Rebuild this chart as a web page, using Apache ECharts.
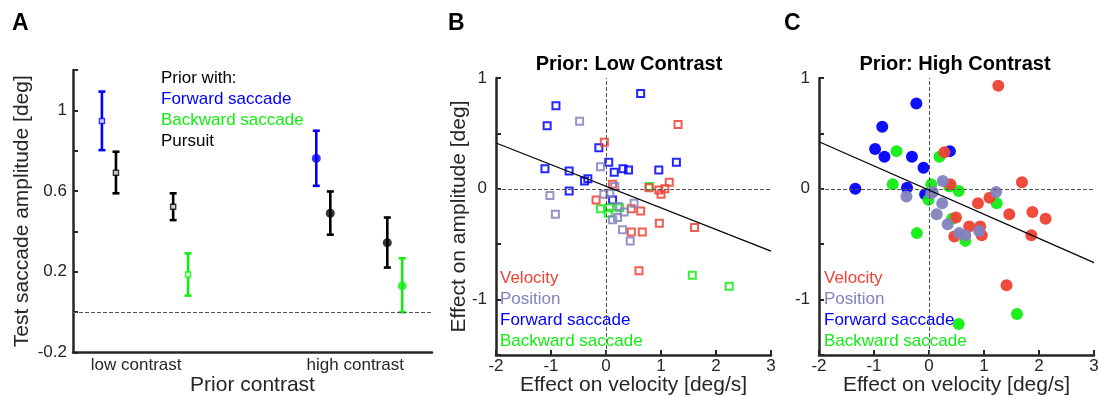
<!DOCTYPE html>
<html>
<head>
<meta charset="utf-8">
<script src="https://cdn.jsdelivr.net/npm/echarts@6/dist/echarts.min.js"></script>
<style>
  html, body { margin: 0; padding: 0; background: #fff; }
  #chart { width: 1099px; height: 395px; }
</style>
</head>
<body>
<div id="chart"></div>
<script>
// ---- Panel A: test saccade amplitude by prior contrast ----
const conditionColors = ['#0000ff', '#000000', '#000000', '#11ee11'];
const lowX = [0.844, 0.908, 1.169, 1.237];
const lowMean = [0.947, 0.691, 0.522, 0.186];
const lowLo = [0.803, 0.589, 0.456, 0.082];
const lowHi = [1.093, 0.795, 0.589, 0.291];
const highX = [1.822, 1.886, 2.146, 2.214];
const highMean = [0.762, 0.490, 0.344, 0.130];
const highLo = [0.626, 0.384, 0.221, 0.000];
const highHi = [0.899, 0.598, 0.469, 0.267];
const contrastTicks = [1, 2];
const contrastLabels = ['low contrast', 'high contrast'];

// ---- Panel B: prior low contrast (squares) ----
const bVelX = [-0.03, 1.31, 0.12, -0.18, 0.46, 0.63, 0.46, 0.66, 0.97, 1.15, 1.07, 1.00, 0.96, 0.78, 1.61, 0.60];
const bVelY = [0.42, 0.58, 0.04, -0.10, -0.18, -0.20, -0.39, -0.39, -0.31, 0.06, 0.00, -0.05, -0.01, 0.01, -0.35, -0.74];
const bPosX = [-0.48, -0.10, -1.02, -0.92, -0.04, 0.16, 0.51, 0.33, 0.21, 0.12, 0.30, 0.44, 0.07, 0.22];
const bPosY = [0.61, 0.20, -0.06, -0.23, -0.05, 0.02, -0.13, -0.21, -0.26, -0.28, -0.37, -0.47, -0.04, -0.16];
const bFwdX = [0.63, -0.91, -1.07, -0.13, 0.05, -1.11, -0.67, 0.15, 0.31, 0.41, 0.96, 1.28, -0.33, -0.39, -0.67, 0.12];
const bFwdY = [0.86, 0.75, 0.57, 0.37, 0.24, 0.18, 0.16, 0.15, 0.18, 0.17, 0.17, 0.24, 0.09, 0.07, -0.02, -0.10];
const bBwdX = [0.79, -0.10, 0.06, 0.04, 0.25, 1.57, 2.24];
const bBwdY = [0.02, -0.18, -0.17, -0.22, -0.17, -0.78, -0.88];
const bFit = [[-2, 0.413], [3, -0.562]];

// ---- Panel C: prior high contrast (circles) ----
const cVelX = [1.26, 0.28, 0.39, 0.89, 1.10, 1.46, 1.69, 1.88, 2.12, 1.86, 0.49, 0.73, 0.93, 0.96, 0.46, 1.41];
const cVelY = [0.93, 0.33, 0.04, -0.13, -0.08, -0.23, 0.06, -0.21, -0.27, -0.42, -0.26, -0.34, -0.34, -0.42, -0.43, -0.87];
const cPosX = [0.25, 0.07, 1.22, -0.41, 0.24, 0.14, 0.34, 0.55, 0.66, 0.91, 0.04];
const cPosY = [0.07, -0.03, -0.03, -0.07, -0.13, -0.23, -0.32, -0.40, -0.42, -0.38, -0.04];
const cFwdX = [-0.23, -0.85, -0.98, -0.81, -0.31, -0.10, -1.34, -0.40, 0.38, -0.07];
const cFwdY = [0.77, 0.56, 0.36, 0.29, 0.29, 0.19, 0.00, 0.01, 0.34, -0.05];
const cBwdX = [-0.59, -0.66, 0.19, 0.04, -0.01, 0.37, 0.54, 1.23, -0.22, 0.42, 0.66, 0.54, 1.60];
const cBwdY = [0.34, 0.04, 0.29, 0.04, -0.10, 0.02, -0.02, -0.13, -0.40, -0.27, -0.47, -1.22, -1.13];
const cFit = [[-2, 0.425], [3, -0.666]];

const legendA = [
    ['Prior with:', '#000000'],
    ['Forward saccade', '#0000ff'],
    ['Backward saccade', '#11ee11'],
    ['Pursuit', '#000000']
];
const legendBC = [
    ['Velocity', '#f04132'],
    ['Position', '#8282c0'],
    ['Forward saccade', '#0000ff'],
    ['Backward saccade', '#11ee11']
];

const FONT = "'Liberation Sans', Arial, sans-serif";
const AXIS = '#262626';
const RED = '#f04132', LAV = '#8282c0', BLUE = '#0000ff', GREEN = '#11ee11';

const chart = echarts.init(document.getElementById('chart'));

function zip(xs, ys) {
    return xs.map((x, i) => [x, ys[i]]);
}

function baseAxis(extra) {
    return Object.assign({
        axisLine: { show: true, onZero: false, lineStyle: { color: AXIS, width: 2.5 } },
        axisTick: { show: true, inside: true, length: 5, lineStyle: { color: AXIS, width: 2 } },
        axisLabel: { color: AXIS, fontSize: 17, fontFamily: FONT },
        splitLine: { show: false },
        nameTextStyle: { color: AXIS, fontSize: 21, fontFamily: FONT },
        nameLocation: 'middle',
        nameMoveOverlap: false
    }, extra);
}

const dashed = { type: 'dashed', color: '#555', width: 1 };

function scatter(name, xi, yi, data, color, symbol) {
    const square = symbol === 'rect';
    return {
        name: name,
        type: 'scatter',
        xAxisIndex: xi,
        yAxisIndex: yi,
        data: data,
        symbol: symbol,
        symbolSize: square ? 7 : 12,
        itemStyle: square
            ? { color: 'rgba(255,255,255,0)', borderColor: color, borderWidth: 2, opacity: 0.85 }
            : { color: color, opacity: 0.95 },
        z: 3
    };
}

// error bars for panel A
const errData = [];
lowX.forEach((x, i) => errData.push([x, lowLo[i], lowHi[i], i]));
highX.forEach((x, i) => errData.push([x, highLo[i], highHi[i], i]));

const lowPts = lowX.map((x, i) => ({
    value: [x, lowMean[i]],
    itemStyle: { color: '#ffffff', borderColor: conditionColors[i], borderWidth: 1.5 }
}));
const highPts = highX.map((x, i) => ({
    value: [x, highMean[i]],
    itemStyle: { color: conditionColors[i] }
}));

const graphics = [];
[['A', 12], ['B', 448], ['C', 784]].forEach(([t, x]) => {
    graphics.push({ type: 'text', x: x, y: 24,
        style: { text: t, font: 'bold 23px ' + FONT, fill: '#000', verticalAlign: 'middle' } });
});
[['Prior: Low Contrast', 629], ['Prior: High Contrast', 955]].forEach(([t, x]) => {
    graphics.push({ type: 'text', x: x, y: 64,
        style: { text: t, font: 'bold 20px ' + FONT, fill: '#000', align: 'center', verticalAlign: 'middle' } });
});
legendA.forEach(([t, c], i) => {
    graphics.push({ type: 'text', x: 161, y: 78 + i * 21,
        style: { text: t, font: '17px ' + FONT, fill: c, verticalAlign: 'middle' } });
});
[500, 824].forEach(x0 => {
    legendBC.forEach(([t, c], i) => {
        graphics.push({ type: 'text', x: x0, y: 278 + i * 21,
            style: { text: t, font: '17px ' + FONT, fill: c, verticalAlign: 'middle' }, z: 10 });
    });
});

const velTickLabel = { color: AXIS, fontSize: 17, fontFamily: FONT, margin: 3 };

const option = {
    animation: false,
    backgroundColor: '#ffffff',
    textStyle: { fontFamily: FONT },
    grid: [
        { left: 73, top: 70, width: 359, height: 282.5, outerBoundsMode: 'none', containLabel: false },
        { left: 496, top: 78, width: 275, height: 277, outerBoundsMode: 'none', containLabel: false },
        { left: 819, top: 78, width: 275, height: 277, outerBoundsMode: 'none', containLabel: false }
    ],
    xAxis: [
        baseAxis({
            gridIndex: 0, type: 'value', min: 0.712, max: 2.35,
            name: 'Prior contrast', nameGap: 22,
            axisTick: { show: false },
            axisLabel: {
                color: AXIS, fontSize: 17, fontFamily: FONT, margin: 4,
                customValues: contrastTicks,
                formatter: v => contrastLabels[contrastTicks.indexOf(v)] || ''
            }
        }),
        baseAxis({ gridIndex: 1, type: 'value', min: -2, max: 3, interval: 1,
            name: 'Effect on velocity [deg/s]', nameGap: 20, axisLabel: velTickLabel }),
        baseAxis({ gridIndex: 2, type: 'value', min: -2, max: 3, interval: 1,
            name: 'Effect on velocity [deg/s]', nameGap: 20, axisLabel: velTickLabel })
    ],
    yAxis: [
        baseAxis({
            gridIndex: 0, type: 'value', min: -0.2, max: 1.2, interval: 0.2,
            name: 'Test saccade amplitude [deg]', nameGap: 40,
            axisLabel: {
                color: AXIS, fontSize: 17, fontFamily: FONT, margin: 6,
                formatter: v => {
                    const k = Math.round(v * 10);
                    return [-2, 2, 6, 10].includes(k) ? String(k / 10) : '';
                }
            }
        }),
        baseAxis({
            gridIndex: 1, type: 'value', min: -1.5, max: 1, interval: 0.5,
            name: 'Effect on amplitude [deg]', nameGap: 26,
            axisLabel: { color: AXIS, fontSize: 17, fontFamily: FONT, margin: 9,
                formatter: v => Number.isInteger(v) ? String(v) : '' }
        }),
        baseAxis({
            gridIndex: 2, type: 'value', min: -1.5, max: 1, interval: 0.5,
            axisLabel: { color: AXIS, fontSize: 17, fontFamily: FONT, margin: 9,
                formatter: v => Number.isInteger(v) ? String(v) : '' }
        })
    ],
    graphic: graphics,
    series: [
        // panel A
        {
            type: 'custom',
            xAxisIndex: 0, yAxisIndex: 0,
            data: errData,
            silent: true,
            renderItem: function (params, api) {
                const x = api.value(0);
                const lo = api.coord([x, api.value(1)]);
                const hi = api.coord([x, api.value(2)]);
                const col = conditionColors[api.value(3)];
                const cap = 3.5;
                const st = { stroke: col, lineWidth: 2.6 };
                return {
                    type: 'group',
                    children: [
                        { type: 'line', shape: { x1: lo[0], y1: lo[1], x2: hi[0], y2: hi[1] }, style: st },
                        { type: 'line', shape: { x1: lo[0] - cap, y1: lo[1], x2: lo[0] + cap, y2: lo[1] }, style: st },
                        { type: 'line', shape: { x1: hi[0] - cap, y1: hi[1], x2: hi[0] + cap, y2: hi[1] }, style: st }
                    ]
                };
            },
            markLine: {
                silent: true, symbol: 'none', label: { show: false },
                lineStyle: dashed,
                data: [{ yAxis: 0 }]
            },
            z: 2
        },
        {
            name: 'low contrast', type: 'scatter', xAxisIndex: 0, yAxisIndex: 0,
            data: lowPts, symbol: 'rect', symbolSize: 5, z: 4
        },
        {
            name: 'high contrast', type: 'scatter', xAxisIndex: 0, yAxisIndex: 0,
            data: highPts, symbol: 'circle', symbolSize: 9, z: 4
        },
        // panel B
        {
            type: 'line', xAxisIndex: 1, yAxisIndex: 1, data: bFit,
            symbol: 'none', lineStyle: { color: '#000', width: 1.2 }, z: 5,
            markLine: {
                silent: true, symbol: 'none', label: { show: false },
                lineStyle: dashed,
                data: [{ xAxis: 0 }, { yAxis: 0 }]
            }
        },
        scatter('Forward saccade', 1, 1, zip(bFwdX, bFwdY), BLUE, 'rect'),
        scatter('Backward saccade', 1, 1, zip(bBwdX, bBwdY), GREEN, 'rect'),
        scatter('Velocity', 1, 1, zip(bVelX, bVelY), RED, 'rect'),
        scatter('Position', 1, 1, zip(bPosX, bPosY), LAV, 'rect'),
        // panel C
        {
            type: 'line', xAxisIndex: 2, yAxisIndex: 2, data: cFit,
            symbol: 'none', lineStyle: { color: '#000', width: 1.2 }, z: 5,
            markLine: {
                silent: true, symbol: 'none', label: { show: false },
                lineStyle: dashed,
                data: [{ xAxis: 0 }, { yAxis: 0 }]
            }
        },
        scatter('Forward saccade', 2, 2, zip(cFwdX, cFwdY), BLUE, 'circle'),
        scatter('Backward saccade', 2, 2, zip(cBwdX, cBwdY), GREEN, 'circle'),
        scatter('Velocity', 2, 2, zip(cVelX, cVelY), RED, 'circle'),
        scatter('Position', 2, 2, zip(cPosX, cPosY), LAV, 'circle')
    ]
};

chart.setOption(option);
</script>
</body>
</html>
